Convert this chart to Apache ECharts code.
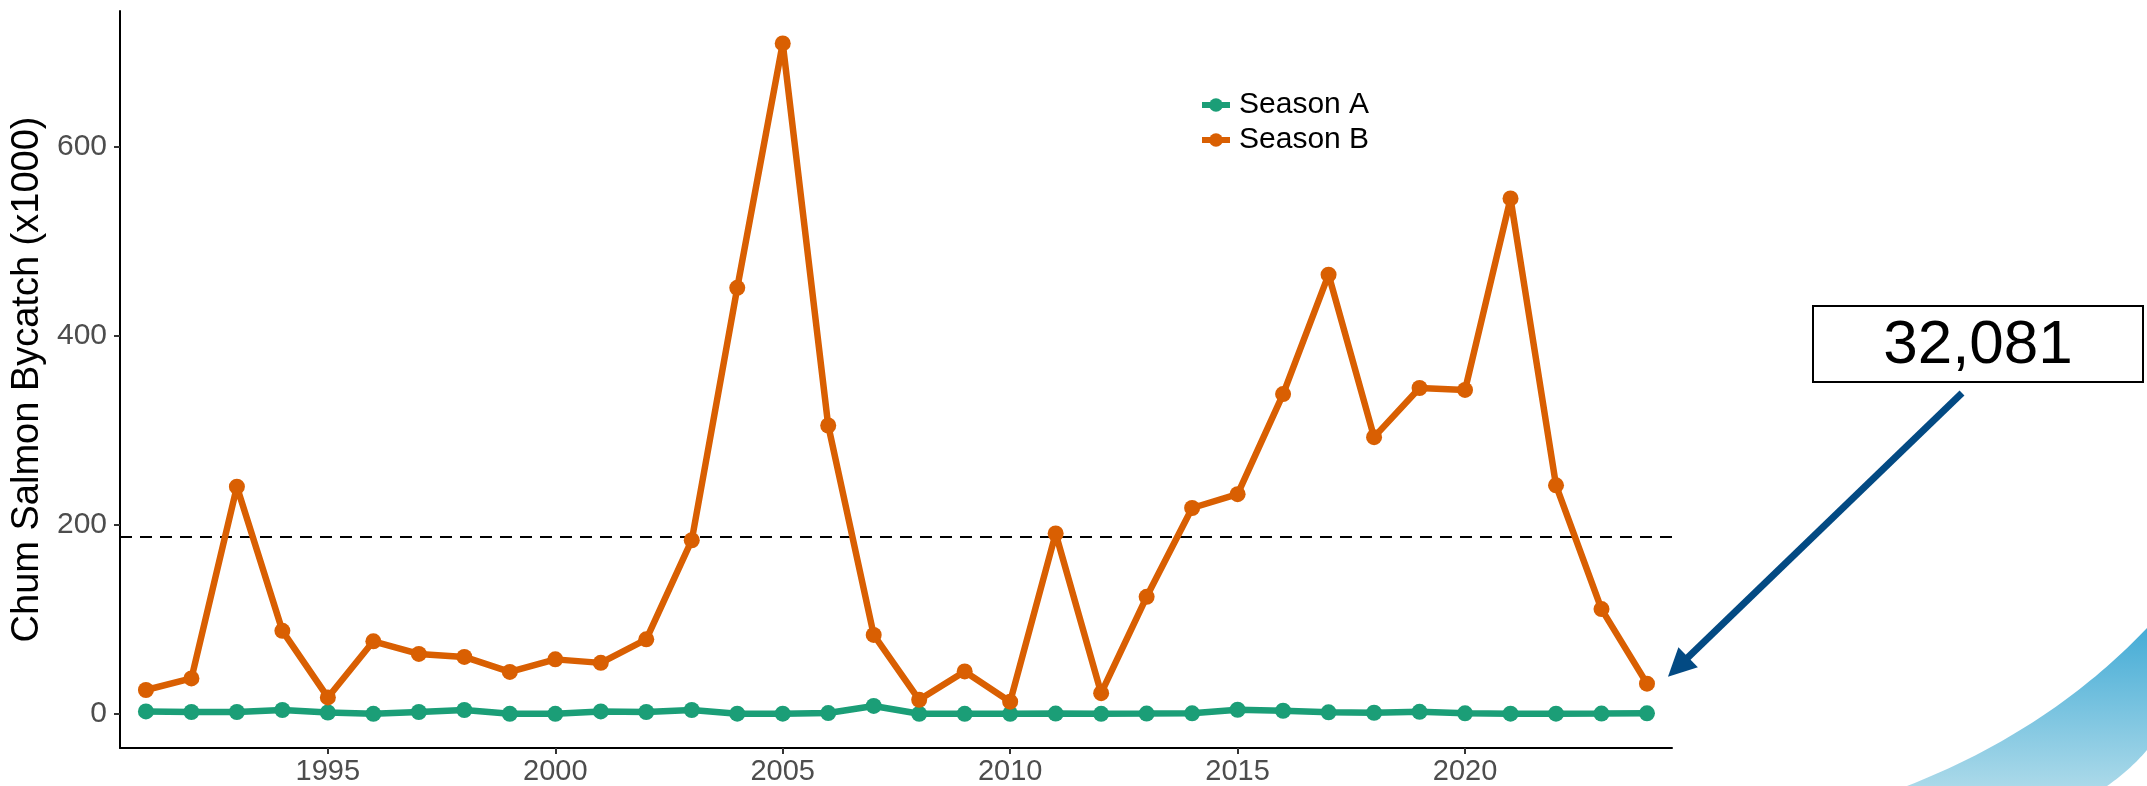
<!DOCTYPE html>
<html>
<head>
<meta charset="utf-8">
<script src="https://cdn.jsdelivr.net/npm/echarts@6/dist/echarts.min.js"></script>
<style>
html,body{margin:0;padding:0;background:#fff;}
#chart{width:2147px;height:786px;}
</style>
</head>
<body>
<div id="chart"></div>
<script>
const years = [1991,1992,1993,1994,1995,1996,1997,1998,1999,2000,2001,2002,2003,2004,2005,2006,2007,2008,2009,2010,2011,2012,2013,2014,2015,2016,2017,2018,2019,2020,2021,2022,2023,2024];
const seasonA = [2.7,2.1,2.1,4.2,1.6,0.2,2.1,4.2,0.2,0.2,2.7,2.1,4.2,0.3,0.3,1.0,8.5,0.2,0.2,0.2,0.4,0.2,0.4,0.7,4.5,3.4,1.8,1.3,2.3,0.7,0.3,0.3,0.4,0.7];
const seasonB = [25.4,37.6,240.6,88,17.5,76.9,63.6,60.4,44.5,57.8,54.1,79,183.9,451,709.7,305.3,83.7,15,45,13,191,22,124,218,232.6,338.6,464.9,293,345,343,545.6,242,111,32.1];
const xTickValues = [1995,2000,2005,2010,2015,2020];
const yTickValues = [0,200,400,600];
const referenceLevel = 187.6;
const annotationText = '32,081';
const seriesNames = ['Season A','Season B'];

const FONT = '"Liberation Sans", Arial, Helvetica, sans-serif';
const chart = echarts.init(document.getElementById('chart'));

const option = {
  animation: false,
  backgroundColor: '#ffffff',
  grid: {left: 120, right: 475, top: 11, bottom: 38, containLabel: false},
  legend: {
    data: seriesNames,
    orient: 'vertical',
    left: 1199,
    top: 90,
    itemWidth: 28,
    itemHeight: 17,
    itemGap: 5,
    padding: 0,
    lineStyle: {width: 6},
    textStyle: {fontFamily: FONT, fontSize: 30, color: '#000', padding: [0,0,0,4]}
  },
  xAxis: {
    type: 'value',
    min: 1990.43,
    max: 2024.55,
    splitLine: {show: false},
    axisLine: {show: true, onZero: false, lineStyle: {color: '#000', width: 2}},
    axisTick: {show: true, length: 6, customValues: xTickValues, lineStyle: {color: '#333', width: 2}},
    axisLabel: {customValues: xTickValues, fontFamily: FONT, fontSize: 29, color: '#4d4d4d', margin: 9,
                formatter: v => String(v)}
  },
  yAxis: {
    type: 'value',
    min: -36,
    max: 744,
    name: 'Chum Salmon Bycatch (x1000)',
    nameLocation: 'middle',
    nameGap: 72,
    nameRotate: 90,
    nameTextStyle: {fontFamily: FONT, fontSize: 38, color: '#000'},
    splitLine: {show: false},
    axisLine: {show: true, onZero: false, lineStyle: {color: '#000', width: 2}},
    axisTick: {show: true, length: 6, customValues: yTickValues, lineStyle: {color: '#333', width: 2}},
    axisLabel: {customValues: yTickValues, fontFamily: FONT, fontSize: 30, color: '#4d4d4d', margin: 13}
  },
  series: [
    {
      name: seriesNames[0],
      type: 'line',
      data: years.map((y, i) => [y, seasonA[i]]),
      symbol: 'circle',
      symbolSize: 16,
      itemStyle: {color: '#1b9e77'},
      lineStyle: {color: '#1b9e77', width: 6.5},
      z: 3
    },
    {
      name: seriesNames[1],
      type: 'line',
      data: years.map((y, i) => [y, seasonB[i]]),
      symbol: 'circle',
      symbolSize: 16,
      itemStyle: {color: '#d95f02'},
      lineStyle: {color: '#d95f02', width: 6.5},
      z: 3,
      markLine: {
        silent: true,
        symbol: ['none','none'],
        label: {show: false},
        lineStyle: {color: '#000', width: 2, type: [12, 8]},
        data: [{yAxis: referenceLevel}],
        z: 1
      }
    }
  ]
};
chart.setOption(option);

// decorative swoosh outline (quadratic curves sampled into a polygon)
function quad(p0, c, p1, n) {
  const pts = [];
  for (let i = 0; i <= n; i++) {
    const t = i / n, u = 1 - t;
    pts.push([u*u*p0[0] + 2*u*t*c[0] + t*t*p1[0], u*u*p0[1] + 2*u*t*c[1] + t*t*p1[1]]);
  }
  return pts;
}
const swoosh = quad([1907, 786], [2050, 730], [2147, 628], 40)
  .concat(quad([2147, 750], [2130, 770], [2107, 786], 20));

// annotation: box, arrow pointing at final Season B value
const last = years.length - 1;
const tip = chart.convertToPixel({gridIndex: 0}, [years[last], seasonB[last]]);
const tipX = tip[0] + 21, tipY = tip[1] - 7;
const startX = 1962, startY = 393;
const ang = Math.atan2(tipY - startY, tipX - startX);
const headLen = 28, headHalf = 14;
const baseX = tipX - headLen * Math.cos(ang), baseY = tipY - headLen * Math.sin(ang);
const px = -Math.sin(ang), py = Math.cos(ang);

chart.setOption({
  graphic: [
    {
      type: 'polygon',
      shape: {points: swoosh},
      style: {
        fill: {
          type: 'linear', x: 0, y: 0, x2: 0, y2: 1,
          colorStops: [
            {offset: 0, color: '#45acd6'},
            {offset: 1, color: '#aad9e9'}
          ]
        }
      },
      z: 0
    },
    {
      type: 'rect',
      shape: {x: 1813, y: 306, width: 330, height: 76},
      style: {fill: '#fff', stroke: '#000', lineWidth: 2},
      z: 10
    },
    {
      type: 'text',
      x: 1978, y: 346,
      style: {text: annotationText, fontFamily: FONT, fontSize: 62, fill: '#000', align: 'center', verticalAlign: 'middle'},
      z: 11
    },
    {
      type: 'line',
      shape: {x1: startX, y1: startY, x2: baseX + 4 * Math.cos(ang), y2: baseY + 4 * Math.sin(ang)},
      style: {stroke: '#034a83', lineWidth: 7},
      z: 10
    },
    {
      type: 'polygon',
      shape: {points: [[tipX, tipY], [baseX + px * headHalf, baseY + py * headHalf], [baseX - px * headHalf, baseY - py * headHalf]]},
      style: {fill: '#034a83'},
      z: 10
    }
  ]
});
</script>
</body>
</html>
